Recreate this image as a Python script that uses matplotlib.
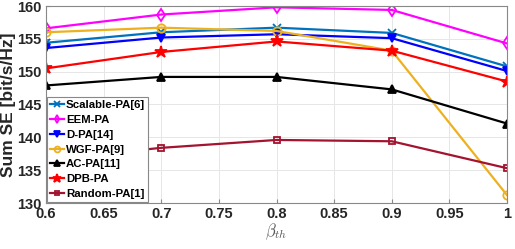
import matplotlib
matplotlib.use("Agg")
import matplotlib.pyplot as plt

# x values (beta_th)
beta_th = [0.6, 0.7, 0.8, 0.9, 1.0]

# sum SE per scheme [bit/s/Hz]
scalable_pa = [154.4, 156.0, 156.7, 155.9, 150.8]
eem_pa = [156.6, 158.7, 159.8, 159.4, 154.3]
d_pa = [153.6, 155.2, 155.7, 155.1, 150.1]
wgf_pa = [156.0, 156.7, 156.2, 153.2, 131.2]
ac_pa = [147.9, 149.2, 149.2, 147.3, 142.1]
dpb_pa = [150.5, 153.0, 154.6, 153.2, 148.5]
random_pa = [136.6, 138.4, 139.6, 139.4, 135.3]

labels = ["Scalable-PA[6]", "EEM-PA", "D-PA[14]", "WGF-PA[9]",
          "AC-PA[11]", "DPB-PA", "Random-PA[1]"]

plt.rcParams["font.family"] = ["Liberation Sans", "DejaVu Sans"]
plt.rcParams["mathtext.fontset"] = "cm"

# (colour, marker, filled)
STYLE = [
    ("#0072BD", "x", True),
    ("#FF00FF", "d", False),
    ("#0000FF", "v", True),
    ("#EDB120", "o", False),
    ("#000000", "^", True),
    ("#FF0000", "*", True),
    ("#A2142F", "s", False),
]

fig = plt.figure(figsize=(5.15, 2.49), dpi=100)
ax = fig.add_axes([46 / 515, 1 - 203 / 249, 461 / 515, 197 / 249])

series = [scalable_pa, eem_pa, d_pa, wgf_pa, ac_pa, dpb_pa, random_pa]
for ys, lbl, (col, mk, filled) in zip(series, labels, STYLE):
    ms = 9 if mk == "*" else (5 if mk == "s" else 6)
    ax.plot(beta_th, ys, color=col, lw=1.6, marker=mk, ms=ms,
            mfc=col if filled else "none", mec=col, mew=1.3, label=lbl)

ax.set_xlim(0.6, 1.0)
ax.set_ylim(130, 160)
ax.set_xticks([0.6, 0.65, 0.7, 0.75, 0.8, 0.85, 0.9, 0.95, 1.0])
ax.set_xticklabels(["0.6", "0.65", "0.7", "0.75", "0.8", "0.85", "0.9", "0.95", "1"])
ax.set_yticks(range(130, 161, 5))
ax.grid(True, color="#E6E6E6", lw=0.7)
ax.set_axisbelow(True)
for sp in ax.spines.values():
    sp.set_color("#888888")
    sp.set_linewidth(0.8)
ax.tick_params(direction="in", length=3, color="#888888", labelsize=10.5, pad=3)
for t in ax.get_xticklabels() + ax.get_yticklabels():
    t.set_fontweight("bold")
    t.set_color("#262626")

ax.set_ylabel("Sum SE [bit/s/Hz]", fontsize=12.5, fontweight="bold", color="#262626", labelpad=1)
ax.set_xlabel(r"$\beta_{th}$", fontsize=12, color="#555555", labelpad=0)

leg = ax.legend(loc="lower left", bbox_to_anchor=(0, 0),
                prop={"weight": "bold", "size": 8.2}, fancybox=False,
                framealpha=1, edgecolor="#888888", borderpad=0.25,
                labelspacing=0.42, handlelength=1.2, handletextpad=0.2,
                borderaxespad=0.1, markerscale=0.7)
leg.get_frame().set_linewidth(0.8)

fig.savefig("out.png", dpi=100)
